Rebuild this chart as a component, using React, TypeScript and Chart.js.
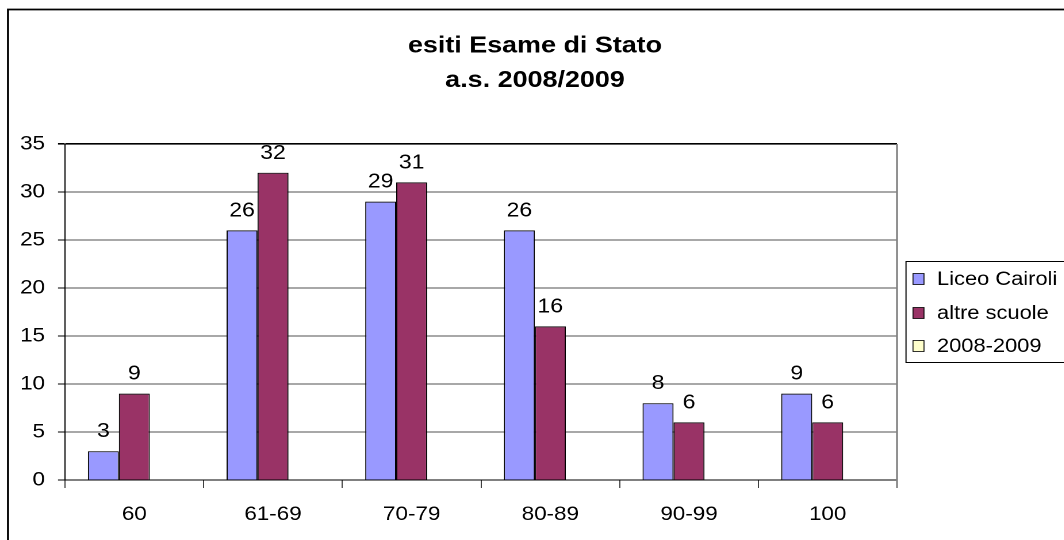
import React, { useEffect, useRef } from "react";
import { Chart, registerables } from "chart.js";

Chart.register(...registerables);

const categories = ["60", "61-69", "70-79", "80-89", "90-99", "100"];
const liceoCairoli = [3, 26, 29, 26, 8, 9];
const altreScuole = [9, 32, 31, 16, 6, 6];
const anno = [null, null, null, null, null, null];
const seriesNames = ["Liceo Cairoli", "altre scuole", "2008-2009"];
const seriesColors = ["#9999FF", "#993366", "#FFFFCC"];
const titleLines = ["esiti Esame di Stato", "a.s. 2008/2009"];
const yTicks = { min: 0, max: 35, step: 5 };

const STRETCH = 1.15;
const W = 926;
const H = 540;
const FONT = "'Liberation Sans', Arial, sans-serif";
const X = (px: number) => px / STRETCH; // screen x -> canvas x

const decorPlugin = {
  id: "decor",
  beforeDraw(chart: any) {
    const ctx = chart.ctx;
    ctx.save();
    ctx.strokeStyle = "#000";
    ctx.lineWidth = 1.8;
    ctx.beginPath();
    ctx.moveTo(X(8), H + 5);
    ctx.lineTo(X(8), 9.5);
    ctx.lineTo(W + 5, 9.5);
    ctx.stroke();
    ctx.restore();
  },
  afterDatasetsDraw(chart: any) {
    const ctx = chart.ctx;
    const area = chart.chartArea;
    ctx.save();
    ctx.strokeStyle = "#808080";
    ctx.lineWidth = 1.6;
    ctx.beginPath();
    ctx.moveTo(area.right, area.top);
    ctx.lineTo(area.right, area.bottom + 8);
    ctx.stroke();
    ctx.fillStyle = "#000";
    ctx.font = `20px ${FONT}`;
    ctx.textAlign = "center";
    ctx.textBaseline = "alphabetic";
    [0, 1].forEach((di) => {
      const meta = chart.getDatasetMeta(di);
      const data = chart.data.datasets[di].data;
      meta.data.forEach((el: any, i: number) => {
        const v = data[i];
        if (v === null || v === undefined) return;
        ctx.fillText(String(v), el.x, el.y - 14);
      });
    });
    ctx.restore();
  },
  afterDraw(chart: any) {
    const ctx = chart.ctx;
    ctx.save();
    ctx.fillStyle = "#000";
    ctx.font = `bold 23.4px ${FONT}`;
    ctx.textAlign = "center";
    ctx.textBaseline = "alphabetic";
    ctx.fillText(titleLines[0], X(535), 52.5);
    ctx.fillText(titleLines[1], X(535), 87);
    ctx.strokeStyle = "#000";
    ctx.lineWidth = 1;
    ctx.strokeRect(X(906), 261.5, 200, 101);
    const centers = [279, 313, 346];
    ctx.font = `19px ${FONT}`;
    ctx.textAlign = "left";
    ctx.textBaseline = "middle";
    seriesNames.forEach((name, i) => {
      const c = centers[i];
      ctx.fillStyle = seriesColors[i];
      ctx.fillRect(X(913), c - 5.5, X(11), 11);
      ctx.strokeStyle = "#000";
      ctx.lineWidth = 0.8;
      ctx.strokeRect(X(913), c - 5.5, X(11), 11);
      ctx.fillStyle = "#000";
      ctx.fillText(name, X(937), c + 1);
    });
    ctx.restore();
  },
};

export default function App() {
  const ref = useRef<HTMLCanvasElement>(null);
  useEffect(() => {
    if (!ref.current) return;
    const chart = new Chart(ref.current, {
      type: "bar",
      data: {
        labels: categories,
        datasets: [
          {
            label: seriesNames[0],
            data: liceoCairoli,
            backgroundColor: seriesColors[0],
            borderColor: "#000",
            borderWidth: 1,
          },
          {
            label: seriesNames[1],
            data: altreScuole,
            backgroundColor: seriesColors[1],
            borderColor: "#000",
            borderWidth: 1,
          },
          {
            label: seriesNames[2],
            data: anno as any,
            backgroundColor: seriesColors[2],
            borderColor: "#000",
            borderWidth: 1,
          },
        ],
      },
      options: {
        animation: false,
        responsive: false,
        devicePixelRatio: 2,
        datasets: {
          bar: { categoryPercentage: 0.67, barPercentage: 1 },
        },
        layout: { padding: { top: 144, left: 0, right: W - X(897), bottom: 0 } },
        plugins: {
          legend: { display: false },
          title: { display: false },
          tooltip: { enabled: false },
        },
        scales: {
          x: {
            afterFit: (s: any) => {
              s.height = 60;
            },
            grid: {
              display: true,
              drawOnChartArea: false,
              offset: true,
              tickLength: 8,
              color: "#404040",
            },
            border: { display: true, color: "#000", width: 1 },
            ticks: {
              color: "#000",
              font: { family: FONT, size: 19.5 },
              padding: 15,
              maxRotation: 0,
            },
          },
          y: {
            min: yTicks.min,
            max: yTicks.max,
            afterFit: (s: any) => {
              s.width = X(65);
            },
            grid: {
              color: (c: any) => (c.tick && c.tick.value === 35 ? "#000" : "#505050"),
              lineWidth: (c: any) => (c.tick && c.tick.value === 35 ? 1.6 : 1),
              tickLength: X(7),
              tickColor: "#000",
            },
            border: { display: true, color: "#000", width: 1 },
            ticks: {
              stepSize: yTicks.step,
              color: "#000",
              font: { family: FONT, size: 19.5 },
              padding: X(13),
            },
          },
        },
      },
      plugins: [decorPlugin],
    });
    return () => chart.destroy();
  }, []);

  return (
    <div
      style={{
        position: "fixed",
        left: 0,
        top: 0,
        width: 1064,
        height: 540,
        overflow: "hidden",
        background: "#fff",
      }}
    >
      <canvas
        ref={ref}
        width={W}
        height={H}
        style={{
          position: "absolute",
          left: 0,
          top: 0,
          width: W + "px",
          height: H + "px",
          transform: `scaleX(${STRETCH})`,
          transformOrigin: "0 0",
        }}
      />
    </div>
  );
}
